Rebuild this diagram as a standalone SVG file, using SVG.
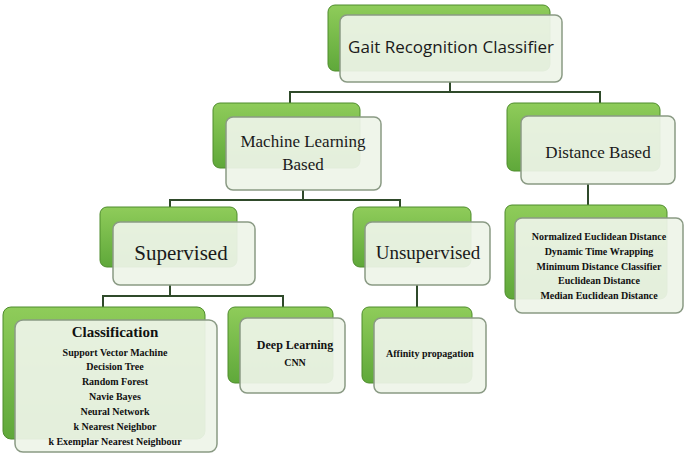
<svg xmlns="http://www.w3.org/2000/svg" width="685" height="456" viewBox="0 0 685 456">
<defs>
<linearGradient id="g" x1="0" y1="0" x2="0" y2="1"><stop offset="0" stop-color="#8fcc5a"/><stop offset="1" stop-color="#5fa83a"/></linearGradient>
<style>
.bk{fill:url(#g);stroke:#4e8c2c;stroke-width:1}
.fr{fill:#eef4e8;fill-opacity:0.93;stroke:#8a9a84;stroke-width:1.5}
.c{fill:none;stroke:#2f4a2a;stroke-width:2}
.s{font-family:"Open Sans","Liberation Sans",sans-serif;fill:#1a1a1a;text-anchor:middle}
.t{font-family:"Liberation Serif",serif;fill:#1a1a1a;text-anchor:middle}
.b{font-family:"Liberation Serif",serif;font-weight:bold;fill:#111;text-anchor:middle}
</style>
</defs>
<rect width="685" height="456" fill="#fff"/>
<g id="connectors">
<polyline class="c" points="450,82 450,92 290,92 290,104"/>
<polyline class="c" points="450,92 600,92 600,104"/>
<polyline class="c" points="303,190 303,200 170,200 170,208"/>
<polyline class="c" points="303,200 400,200 400,208"/>
<polyline class="c" points="588,184 588,206"/>
<polyline class="c" points="170,285 170,296 103,296 103,308"/>
<polyline class="c" points="170,296 283,296 283,308"/>
<polyline class="c" points="417,285 417,308"/>
</g>
<g id="root">
<rect class="bk" x="328" y="5" width="222" height="66" rx="7"/>
<rect class="fr" x="340" y="15" width="222" height="67" rx="7"/>
<text class="s" x="451" y="53" font-size="17">Gait Recognition Classifier</text>
</g>
<g id="ml">
<rect class="bk" x="213" y="103" width="147" height="65" rx="7"/>
<rect class="fr" x="226" y="117" width="155" height="73" rx="7"/>
<text class="t" x="303" y="147" font-size="17">Machine Learning</text>
<text class="t" x="303" y="170" font-size="17">Based</text>
</g>
<g id="distance">
<rect class="bk" x="507" y="103" width="153" height="68" rx="7"/>
<rect class="fr" x="521" y="116" width="154" height="68" rx="7"/>
<text class="t" x="598" y="158" font-size="17">Distance Based</text>
</g>
<g id="supervised">
<rect class="bk" x="100" y="207" width="137" height="60" rx="7"/>
<rect class="fr" x="113" y="222" width="142" height="63" rx="7"/>
<text class="t" x="181" y="260" font-size="21">Supervised</text>
</g>
<g id="unsupervised">
<rect class="bk" x="353" y="207" width="118" height="60" rx="7"/>
<rect class="fr" x="365" y="222" width="125" height="63" rx="7"/>
<text class="t" x="428" y="259" font-size="19">Unsupervised</text>
</g>
<g id="distlist">
<rect class="bk" x="505" y="205" width="162" height="94" rx="7"/>
<rect class="fr" x="515" y="218" width="168" height="95" rx="7"/>
<g class="b" font-size="10">
<text x="599" y="240">Normalized  Euclidean  Distance</text>
<text x="599" y="255">Dynamic  Time Wrapping</text>
<text x="599" y="270">Minimum  Distance Classifier</text>
<text x="599" y="284">Euclidean  Distance</text>
<text x="599" y="299">Median Euclidean  Distance</text>
</g>
</g>
<g id="classification">
<rect class="bk" x="3" y="307" width="202" height="132" rx="8"/>
<rect class="fr" x="15" y="320" width="202" height="132" rx="8"/>
<text class="b" x="115" y="337" font-size="15">Classification</text>
<g class="b" font-size="10">
<text x="115" y="356">Support  Vector Machine</text>
<text x="115" y="370">Decision Tree</text>
<text x="115" y="385">Random  Forest</text>
<text x="115" y="400">Navie Bayes</text>
<text x="115" y="415">Neural Network</text>
<text x="115" y="430">k Nearest Neighbor</text>
<text x="115" y="445">k Exemplar  Nearest Neighbour</text>
</g>
</g>
<g id="deep">
<rect class="bk" x="228" y="307" width="105" height="76" rx="7"/>
<rect class="fr" x="240" y="318" width="105" height="75" rx="7"/>
<text class="b" x="295" y="349" font-size="12">Deep Learning</text>
<text class="b" x="295" y="366" font-size="10">CNN</text>
</g>
<g id="affinity">
<rect class="bk" x="362" y="307" width="110" height="76" rx="7"/>
<rect class="fr" x="374" y="318" width="112" height="75" rx="7"/>
<text class="b" x="430" y="357" font-size="10">Affinity  propagation</text>
</g>
</svg>
